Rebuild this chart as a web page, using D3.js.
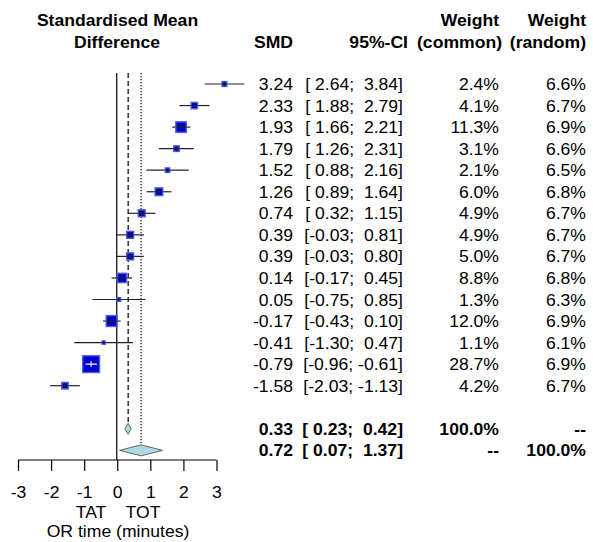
<!DOCTYPE html>
<html><head><meta charset="utf-8">
<script src="https://cdn.jsdelivr.net/npm/d3@7"></script>
<style>
body{margin:0;background:#fff;}
text{font-family:"Liberation Sans",Arial,sans-serif;white-space:pre;}
</style></head>
<body><svg id="c" width="593" height="542"></svg>
<script>
const smd    = [3.24,2.33,1.93,1.79,1.52,1.26,0.74,0.39,0.39,0.14,0.05,-0.17,-0.41,-0.79,-1.58];
const lower  = [2.64,1.88,1.66,1.26,0.88,0.89,0.32,-0.03,-0.03,-0.17,-0.75,-0.43,-1.30,-0.96,-2.03];
const upper  = [3.84,2.79,2.21,2.31,2.16,1.64,1.15,0.81,0.80,0.45,0.85,0.10,0.47,-0.61,-1.13];
const wCommon = [2.4,4.1,11.3,3.1,2.1,6.0,4.9,4.9,5.0,8.8,1.3,12.0,1.1,28.7,4.2];
const wRandom = [6.6,6.7,6.9,6.6,6.5,6.8,6.7,6.7,6.7,6.8,6.3,6.9,6.1,6.9,6.7];
const summaries = [
  {name:"common", est:0.33, lo:0.23, hi:0.42, wC:"100.0%", wR:"--"},
  {name:"random", est:0.72, lo:0.07, hi:1.37, wC:"--", wR:"100.0%"}
];
const axisTicks = [-3,-2,-1,0,1,2,3];
const labelLeft = "TAT", labelRight = "TOT", xTitle = "OR time (minutes)";
const headers = {title1:"Standardised Mean", title2:"Difference", smd:"SMD", ci:"95%-CI",
  w1:"Weight", wc:"(common)", wr:"(random)"};

const svg = d3.select("#c");
const FS = 16.6, SX = 1.06;
const x = d3.scaleLinear().domain([-3,3]).range([18,216.5]);
const rowY = d3.scaleLinear().domain([0,1]).range([84,105.55]);
const boxSize = d3.scaleSqrt().domain([0,28.7]).range([0,16.8]);

function txt(g, px, py, s, anchor, bold){
  return g.append("text").attr("transform",`translate(${px},${py}) scale(${SX},1)`)
    .attr("text-anchor",anchor||"start").attr("font-size",FS)
    .attr("font-weight",bold?"bold":"normal").attr("fill","#000").text(s);
}

const f2 = v => v.toFixed(2);
const pad = (s,n) => " ".repeat(Math.max(0,n-s.length)) + s;
const allLo = lower.concat(summaries.map(d=>d.lo)).map(f2);
const allHi = upper.concat(summaries.map(d=>d.hi)).map(f2);
const wLo = d3.max(allLo,s=>s.length), wHi = d3.max(allHi,s=>s.length);
const ciStr = (lo,hi) => "[" + pad(f2(lo),wLo) + "; " + pad(f2(hi),wHi) + "]";

const colSMD = 293, colCI = 403, colWC = 499, colWR = 586;
const yTop = 73, yAxis = 460;

// headers
const hdr = svg.append("g");
txt(hdr,117.5,26,headers.title1,"middle",true);
txt(hdr,117,48,headers.title2,"middle",true);
txt(hdr,colSMD,48,headers.smd,"end",true);
txt(hdr,408,48,headers.ci,"end",true);
txt(hdr,colWC,26,headers.w1,"end",true);
txt(hdr,colWC+3,48,headers.wc,"end",true);
txt(hdr,colWR,26,headers.w1,"end",true);
txt(hdr,colWR,48,headers.wr,"end",true);

// reference lines
svg.append("line").attr("x1",x(0)-0.5).attr("x2",x(0)-0.5).attr("y1",yTop).attr("y2",yAxis)
  .attr("stroke","#000").attr("stroke-width",1.2);
const ySumC = rowY(16), ySumR = rowY(17), dh = 5.5;
svg.append("line").attr("x1",x(summaries[0].est)).attr("x2",x(summaries[0].est))
  .attr("y1",yTop).attr("y2",ySumC-dh).attr("stroke","#000").attr("stroke-width",1.2)
  .attr("stroke-dasharray","5,3");
svg.append("line").attr("x1",x(summaries[1].est)).attr("x2",x(summaries[1].est))
  .attr("y1",yTop).attr("y2",ySumR-dh).attr("stroke","#000").attr("stroke-width",1.2)
  .attr("stroke-dasharray","1.3,1.7");

// study rows
const rows = svg.append("g");
smd.forEach((v,i)=>{
  const y = rowY(i), s = boxSize(wCommon[i]);
  const inside = (x(upper[i])-x(lower[i])) < s;
  rows.append("line").attr("x1",x(lower[i])).attr("x2",x(upper[i])).attr("y1",y).attr("y2",y)
    .attr("stroke","#222").attr("stroke-width",1.2);
  rows.append("rect").attr("x",x(v)-s/2).attr("y",y-s/2).attr("width",s).attr("height",s)
    .attr("fill","#0000cc").attr("stroke","#4a5ee8").attr("stroke-width",1.4);
  const lc = inside ? "#fff" : "#222";
  if(inside){
    rows.append("line").attr("x1",x(lower[i])).attr("x2",x(upper[i])).attr("y1",y).attr("y2",y)
      .attr("stroke",lc).attr("stroke-width",1.2);
  } else {
    rows.append("line").attr("x1",Math.max(x(lower[i]),x(v)-s/2)).attr("x2",Math.min(x(upper[i]),x(v)+s/2))
      .attr("y1",y).attr("y2",y).attr("stroke",lc).attr("stroke-width",1.2);
  }
  rows.append("line").attr("x1",x(v)).attr("x2",x(v)).attr("y1",y-Math.min(3,s/2)).attr("y2",y+Math.min(3,s/2))
    .attr("stroke",lc).attr("stroke-width",1);
  const t = rows.append("g");
  txt(t,colSMD,y+6,f2(v),"end");
  txt(t,colCI,y+6,ciStr(lower[i],upper[i]),"end");
  txt(t,colWC,y+6,wCommon[i].toFixed(1)+"%","end");
  txt(t,colWR,y+6,wRandom[i].toFixed(1)+"%","end");
});

// summary diamonds
[ySumC,ySumR].forEach((y,k)=>{
  const d = summaries[k];
  svg.append("polygon")
    .attr("points",[[x(d.lo),y],[x(d.est),y-dh],[x(d.hi),y],[x(d.est),y+dh]].map(p=>p.join(",")).join(" "))
    .attr("fill","#add8e6").attr("stroke","#555").attr("stroke-width",0.9);
  const t = svg.append("g");
  txt(t,colSMD,y+6,f2(d.est),"end",true);
  txt(t,colCI,y+6,ciStr(d.lo,d.hi),"end",true);
  txt(t,colWC,y+6,d.wC,"end",true);
  txt(t,colWR,y+6,d.wR,"end",true);
});

// axis
const ax = svg.append("g").attr("transform",`translate(0,${yAxis})`)
  .call(d3.axisBottom(x).tickValues(axisTicks).tickSize(11).tickFormat(d3.format("d")));
ax.select(".domain").attr("stroke","#000").attr("stroke-width",1.2).attr("d",`M${x(-3)},0H${x(3)}`);
ax.selectAll(".tick line").attr("stroke","#000").attr("stroke-width",1.2);
ax.selectAll(".tick text").remove();
ax.selectAll(".tick").each(function(d){
  txt(d3.select(this),0,38,d<0 ? "-"+Math.abs(d) : String(d),"middle");
});

txt(svg,91,518,labelLeft,"middle");
txt(svg,143,518,labelRight,"middle");
txt(svg,118,537,xTitle,"middle");
</script></body></html>
